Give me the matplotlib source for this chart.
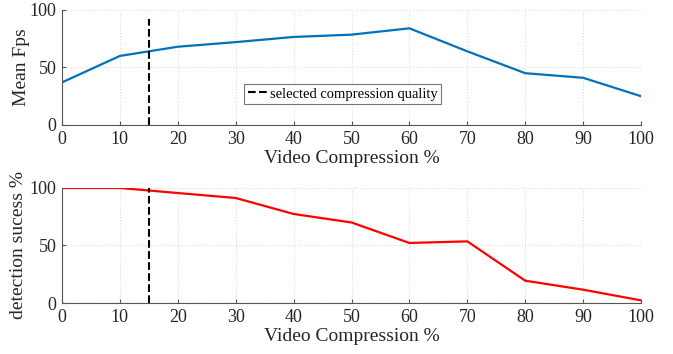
import matplotlib.pyplot as plt

# data
compression = [0, 10, 20, 30, 40, 50, 60, 70, 80, 90, 100]
mean_fps = [37, 60, 68, 72, 76.5, 78.5, 84, 64, 45, 41, 25]
detection = [100, 100, 95.6, 91.3, 77.4, 70, 52.2, 53.6, 19.4, 11.6, 2.3]
selected_q = 15
xticks = [0, 10, 20, 30, 40, 50, 60, 70, 80, 90, 100]
yticks = [0, 50, 100]

plt.rcParams['font.family'] = ['Liberation Serif', 'DejaVu Serif']

fig = plt.figure(figsize=(6.73, 3.54), dpi=100)
ax1 = fig.add_axes([0.0921, 0.647, 0.8604, 0.325])
ax2 = fig.add_axes([0.0921, 0.144, 0.8604, 0.325])


def style(ax):
    ax.set_xlim(0, 100)
    ax.set_ylim(0, 100)
    ax.set_xticks(xticks)
    ax.set_yticks(yticks)
    ax.grid(True, linestyle=':', color='#dcdcdc', linewidth=0.8)
    for s in ['top', 'right']:
        ax.spines[s].set_visible(False)
    for s in ['left', 'bottom']:
        ax.spines[s].set_color('#555555')
        ax.spines[s].set_linewidth(0.8)
    ax.tick_params(direction='in', length=3, color='#555555',
                   labelsize=13, labelcolor='#262626', pad=4)
    ax.set_xlabel('Video Compression %', fontsize=14, color='#262626', labelpad=2)


ax1.plot(compression, mean_fps, color='#0072BD', linewidth=1.6)
ax1.plot([selected_q, selected_q], [0, 92], color='black', linestyle='--',
         linewidth=1.5, label='selected compression quality')
style(ax1)
ax1.set_ylabel('Mean Fps', fontsize=14, color='#262626', labelpad=0)
leg = ax1.legend(loc='center', bbox_to_anchor=(0.485, 0.27), fontsize=10.5,
                 frameon=True, fancybox=False, handlelength=1.3,
                 handletextpad=0.2, borderpad=0.25, borderaxespad=0)
leg.get_frame().set_edgecolor('#555555')
leg.get_frame().set_linewidth(0.8)

ax2.plot(compression, detection, color='#FF0000', linewidth=1.6)
ax2.plot([selected_q, selected_q], [0, 100], color='black', linestyle='--',
         linewidth=1.5)
style(ax2)
ax2.set_ylabel('detection sucess %', fontsize=14, color='#262626', labelpad=2)

fig.savefig('out.png', dpi=100)
